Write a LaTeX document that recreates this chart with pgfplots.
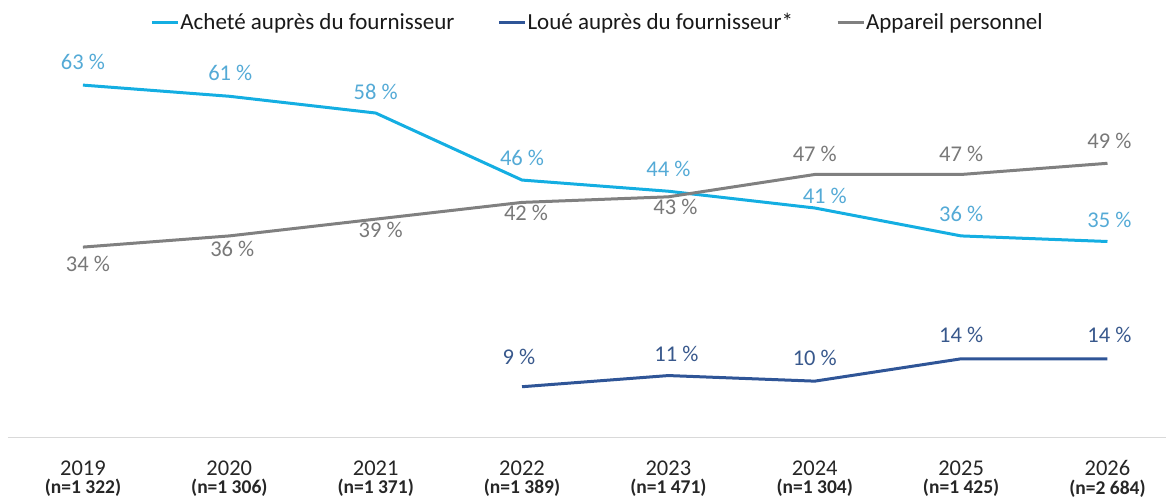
\documentclass[border=0pt]{standalone}
\usepackage{pgfplots}
\pgfplotsset{compat=1.18}
\usepackage{pgfplotstable}
\usepackage{fontspec}
\setmainfont{Carlito}
\definecolor{achete}{RGB}{20,174,226}
\definecolor{acheteL}{RGB}{84,170,214}
\definecolor{loue}{RGB}{47,85,151}
\definecolor{loueL}{RGB}{56,88,140}
\definecolor{app}{RGB}{128,128,128}
\definecolor{appL}{RGB}{120,120,120}

\pgfplotstableread{
x y dx dy
0 63 0 23
1 61 1 23
2 58 0 21
3 46 0 22
4 44 0 22
5 41 10 12
6 36 0 22
7 35 2 22
}\achete
\pgfplotstableread{
x y dx dy
3 9 -3 30
4 11 8 22
5 10 0 23
6 14 0 24
7 14 2 24
}\loue
\pgfplotstableread{
x y dx dy
0 34 5 -17
1 36 3 -13
2 39 5 -11
3 42 4 -11
4 43 7 -10
5 47 0 21
6 47 0 21
7 49 2 22
}\app

\newcommand{\nlab}[1]{{\bfseries\fontsize{19.5}{19.5}\selectfont (n=#1)}}

\begin{document}
\begin{tikzpicture}
\useasboundingbox (0,0) rectangle (1172pt,501pt);
\begin{axis}[
  at={(8pt,64pt)}, anchor=south west,
  scale only axis,
  width=1158pt, height=391pt,
  xmin=-0.512, xmax=7.40,
  ymin=0, ymax=70,
  axis y line=none,
  axis x line*=bottom,
  x axis line style={color=black!15, line width=1pt, -},
  xtick={0,...,7},
  major tick length=0pt,
  xticklabels={
    {2019\\[-4pt]\nlab{1 322}},
    {2020\\[-4pt]\nlab{1 306}},
    {2021\\[-4pt]\nlab{1 371}},
    {2022\\[-4pt]\nlab{1 389}},
    {2023\\[-4pt]\nlab{1 471}},
    {2024\\[-4pt]\nlab{1 304}},
    {2025\\[-4pt]\nlab{1 425}},
    {2026\\[-4pt]\nlab{2 684}}},
  xticklabel style={align=center, font=\fontsize{22.5}{22.5}\selectfont, text=black!85, anchor=north, yshift=-20pt},
  legend style={draw=none, fill=none, legend columns=3,
    at={(0.5,1)}, anchor=center, yshift=24pt, xshift=10pt,
    font=\fontsize{23}{25}\selectfont, text=black!90,
    /tikz/every even column/.append style={column sep=42pt},
    nodes={inner sep=1pt}},
  legend image code/.code={\draw[#1, line width=3pt] (0pt,0pt) -- (26pt,0pt);},
  clip=false,
  visualization depends on={\thisrow{dx} \as \dx},
  visualization depends on={\thisrow{dy} \as \dy},
  nodes near coords={\pgfmathprintnumber[assume math mode=true]{\pgfplotspointmeta}~\%},
  point meta=y,
  every node near coord/.append style={anchor=center, xshift=\dx pt, yshift=\dy pt, font=\fontsize{22.5}{23}\selectfont},
]
\addplot[achete, line width=3pt, mark=none, every node near coord/.append style={text=acheteL}] table[x=x,y=y] {\achete};
\addlegendentry{Acheté auprès du fournisseur}
\addplot[loue, line width=3pt, mark=none, every node near coord/.append style={text=loueL}] table[x=x,y=y] {\loue};
\addlegendentry{Loué auprès du fournisseur*}
\addplot[app, line width=3pt, mark=none, every node near coord/.append style={text=appL}] table[x=x,y=y] {\app};
\addlegendentry{Appareil personnel}
\end{axis}
\end{tikzpicture}
\end{document}
